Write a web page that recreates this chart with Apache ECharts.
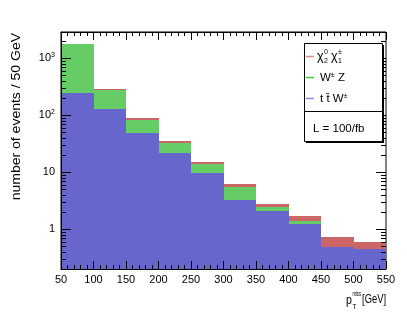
<!DOCTYPE html>
<html>
<head>
<meta charset="utf-8">
<script src="https://cdn.jsdelivr.net/npm/echarts@6/dist/echarts.min.js"></script>
<style>
html,body{margin:0;padding:0;background:#fff;}
#c{width:407px;height:318px;}
</style>
</head>
<body>
<div id="c"></div>
<script>
// ---- data ----
const binLow = [50, 100, 150, 200, 250, 300, 350, 400, 450, 500];
const binWidth = 50;
const ttW = [245, 127, 49, 21.8, 9.7, 3.25, 2.05, 1.21, 0.495, 0.45];
const WZ  = [1540, 156, 33.8, 11.2, 4.1, 2.32, 0.39, 0.21, 0, 0];
const chi = [5, 10, 5.7, 2.7, 1.2, 0.53, 0.32, 0.26, 0.235, 0.157];
const xTicks = [50, 100, 150, 200, 250, 300, 350, 400, 450, 500, 550];
const yMin = 0.2, yMax = 2900;
const yMajor = [1, 10, 100, 1000];

const FONT = '"Liberation Sans", Arial, Helvetica, sans-serif';
const cBlue = '#6666cc', cGreen = '#66cc66', cRed = '#cc6666';

function buildRects(lowArr, highArr) {
  return binLow.map((x, i) => [x, x + binWidth, lowArr[i], highArr[i]]);
}
const base = binLow.map(() => yMin);
const topBlue = ttW.slice();
const topGreen = ttW.map((v, i) => v + WZ[i]);
const topRed = topGreen.map((v, i) => v + chi[i]);

function rectRender(color) {
  return function (params, api) {
    const p0 = api.coord([api.value(0), api.value(3)]);
    const p1 = api.coord([api.value(1), api.value(2)]);
    const x0 = Math.round(p0[0]), x1 = Math.round(p1[0]);
    const y0 = Math.round(p0[1]), y1 = Math.round(p1[1]);
    return {
      type: 'rect',
      shape: { x: x0, y: y0, width: x1 - x0, height: y1 - y0 },
      style: { fill: color }
    };
  };
}

// y tick marks (major + minor) on both sides
const yTickData = [];
for (let e = -1; e <= 3; e++) {
  for (let k = 1; k <= 9; k++) {
    const v = k * Math.pow(10, e);
    if (v >= yMin && v <= yMax) yTickData.push([v, k === 1 ? 1 : 0]);
  }
}
function yTickRender(params, api) {
  const v = api.value(0);
  const major = api.value(1) === 1;
  const len = major ? 10 : 5;
  const pl = api.coord([xTicks[0], v]);
  const pr = api.coord([xTicks[xTicks.length - 1], v]);
  const y = Math.round(pl[1]) + 0.5;
  return {
    type: 'group',
    children: [
      { type: 'line', shape: { x1: pl[0], y1: y, x2: pl[0] + len, y2: y }, style: { stroke: '#000', lineWidth: 1 } },
      { type: 'line', shape: { x1: pr[0], y1: y, x2: pr[0] - len, y2: y }, style: { stroke: '#000', lineWidth: 1 } }
    ]
  };
}

function yLabel(v) {
  const e = Math.round(Math.log10(v));
  if (Math.abs(v - Math.pow(10, e)) > 1e-6 * Math.pow(10, e)) return '';
  if (e < 0 || e > 3) return '';
  if (e === 0) return '{b|1}';
  if (e === 1) return '{b|10}';
  return '{b|10}{sup|' + e + '}';
}

const xAxisCommon = {
  type: 'value', min: 50, max: 550, interval: 50, z: 10,
  axisLine: { show: true, lineStyle: { color: '#000', width: 1 } },
  axisTick: { show: true, inside: true, length: 8, lineStyle: { color: '#000' } },
  minorTick: { show: true, splitNumber: 5, length: 4, lineStyle: { color: '#000' } },
  splitLine: { show: false }
};

const chart = echarts.init(document.getElementById('c'), null, { renderer: 'canvas' });
const option = {
  animation: false,
  backgroundColor: '#fff',
  grid: { left: 61, right: 21, top: 32, bottom: 49, show: true, borderColor: '#000', borderWidth: 1, backgroundColor: 'transparent' },
  xAxis: [
    Object.assign({}, xAxisCommon, { axisLabel: { color: '#000', fontSize: 11, fontFamily: FONT, margin: 5, showMinLabel: true, showMaxLabel: true } }),
    Object.assign({}, xAxisCommon, { position: 'top', axisLabel: { show: false } })
  ],
  yAxis: [{
    type: 'log', logBase: 10, min: yMin, max: yMax, z: 10,
    axisLine: { show: true, lineStyle: { color: '#000', width: 1 } },
    axisTick: { show: false },
    splitLine: { show: false },
    axisLabel: {
      color: '#000', fontFamily: FONT, margin: 6, formatter: yLabel,
      rich: {
        b: { fontSize: 11, fontFamily: FONT, color: '#000', lineHeight: 14 },
        sup: { fontSize: 7, fontFamily: FONT, color: '#000', lineHeight: 14, verticalAlign: 'top', padding: [0, 0, 5, 0] }
      }
    }
  }],
  series: [
    { type: 'custom', name: 'ttW', renderItem: rectRender(cBlue), data: buildRects(base, topBlue), encode: { x: [0, 1], y: [2, 3] }, clip: true, z: 2 },
    { type: 'custom', name: 'WZ', renderItem: rectRender(cGreen), data: buildRects(topBlue, topGreen), encode: { x: [0, 1], y: [2, 3] }, clip: true, z: 2 },
    { type: 'custom', name: 'chi', renderItem: rectRender(cRed), data: buildRects(topGreen, topRed), encode: { x: [0, 1], y: [2, 3] }, clip: true, z: 2 },
    { type: 'custom', name: 'yticks', renderItem: yTickRender, data: yTickData, encode: { y: 0 }, z: 10, silent: true }
  ],
  graphic: [
    // y-axis title
    { type: 'text', x: 17, y: 33, rotation: Math.PI / 2, scaleY: 0.85, style: { text: 'number of events / 50 GeV', fontSize: 14, fontFamily: FONT, fill: '#000', align: 'right', verticalAlign: 'middle' }, z: 100 },
    // x-axis title
    { type: 'text', x: 346, y: 301, scaleX: 0.85, style: { text: 'p', fontSize: 12.5, fontFamily: FONT, fill: '#000', align: 'left', verticalAlign: 'middle' }, z: 100 },
    { type: 'text', x: 352.5, y: 294, scaleX: 0.55, style: { text: 'miss', fontSize: 7.5, fontFamily: FONT, fill: '#000', align: 'left', verticalAlign: 'middle' }, z: 100 },
    { type: 'text', x: 352.5, y: 306.5, scaleX: 0.85, style: { text: 'T', fontSize: 7.5, fontFamily: FONT, fill: '#000', align: 'left', verticalAlign: 'middle' }, z: 100 },
    { type: 'text', x: 386, y: 300, scaleX: 0.75, style: { text: '[GeV]', fontSize: 12.5, fontFamily: FONT, fill: '#000', align: 'right', verticalAlign: 'middle' }, z: 100 },
    // legend box
    { type: 'rect', shape: { x: 306, y: 45, width: 78, height: 98 }, style: { fill: '#000' }, z: 100 },
    { type: 'rect', shape: { x: 304.5, y: 43.5, width: 78, height: 98 }, style: { fill: '#fff', stroke: '#000', lineWidth: 1 }, z: 101 },
    { type: 'line', shape: { x1: 304.5, y1: 111.5, x2: 382.5, y2: 111.5 }, style: { stroke: '#000', lineWidth: 1 }, z: 102 },
    { type: 'line', shape: { x1: 306, y1: 56.5, x2: 314, y2: 56.5 }, style: { stroke: '#dd8888', lineWidth: 1.5 }, z: 102 },
    { type: 'line', shape: { x1: 306, y1: 77.5, x2: 314, y2: 77.5 }, style: { stroke: '#33cc33', lineWidth: 1.5 }, z: 102 },
    { type: 'line', shape: { x1: 306, y1: 98.5, x2: 314, y2: 98.5 }, style: { stroke: '#8888dd', lineWidth: 1.5 }, z: 102 },
    // chi20 chi1+-
    { type: 'text', x: 317, y: 57, style: { text: 'χ', fontSize: 12.5, fontFamily: FONT, fill: '#000', align: 'left', verticalAlign: 'middle' }, z: 102 },
    { type: 'text', x: 324, y: 52.5, style: { text: '0', fontSize: 7, fontFamily: FONT, fill: '#000', align: 'left', verticalAlign: 'middle' }, z: 102 },
    { type: 'text', x: 324, y: 61.5, style: { text: '2', fontSize: 7, fontFamily: FONT, fill: '#000', align: 'left', verticalAlign: 'middle' }, z: 102 },
    { type: 'text', x: 331, y: 57, style: { text: 'χ', fontSize: 12.5, fontFamily: FONT, fill: '#000', align: 'left', verticalAlign: 'middle' }, z: 102 },
    { type: 'text', x: 338, y: 52.5, style: { text: '±', fontSize: 7, fontFamily: FONT, fill: '#000', align: 'left', verticalAlign: 'middle' }, z: 102 },
    { type: 'text', x: 338, y: 61.5, style: { text: '1', fontSize: 7, fontFamily: FONT, fill: '#000', align: 'left', verticalAlign: 'middle' }, z: 102 },
    // W+- Z
    { type: 'text', x: 320, y: 78, style: { text: '{b|W}{s|±}{b| Z}', fontFamily: FONT, fill: '#000', align: 'left', verticalAlign: 'middle', rich: { b: { fontSize: 11.5, fontFamily: FONT, lineHeight: 13 }, s: { fontSize: 7, fontFamily: FONT, lineHeight: 13, verticalAlign: 'top' } } }, z: 102 },
    // t tbar W+-
    { type: 'text', x: 320, y: 99, style: { text: '{b|t t\u0304 W}{s|±}', fontFamily: FONT, fill: '#000', align: 'left', verticalAlign: 'middle', rich: { b: { fontSize: 11.5, fontFamily: FONT, lineHeight: 13 }, s: { fontSize: 7, fontFamily: FONT, lineHeight: 13, verticalAlign: 'top' } } }, z: 102 },
    // L = 100/fb
    { type: 'text', x: 313, y: 129, style: { text: 'L = 100/fb', fontSize: 11.5, fontFamily: FONT, fill: '#000', align: 'left', verticalAlign: 'middle' }, z: 102 }
  ]
};
chart.setOption(option);
</script>
</body>
</html>
